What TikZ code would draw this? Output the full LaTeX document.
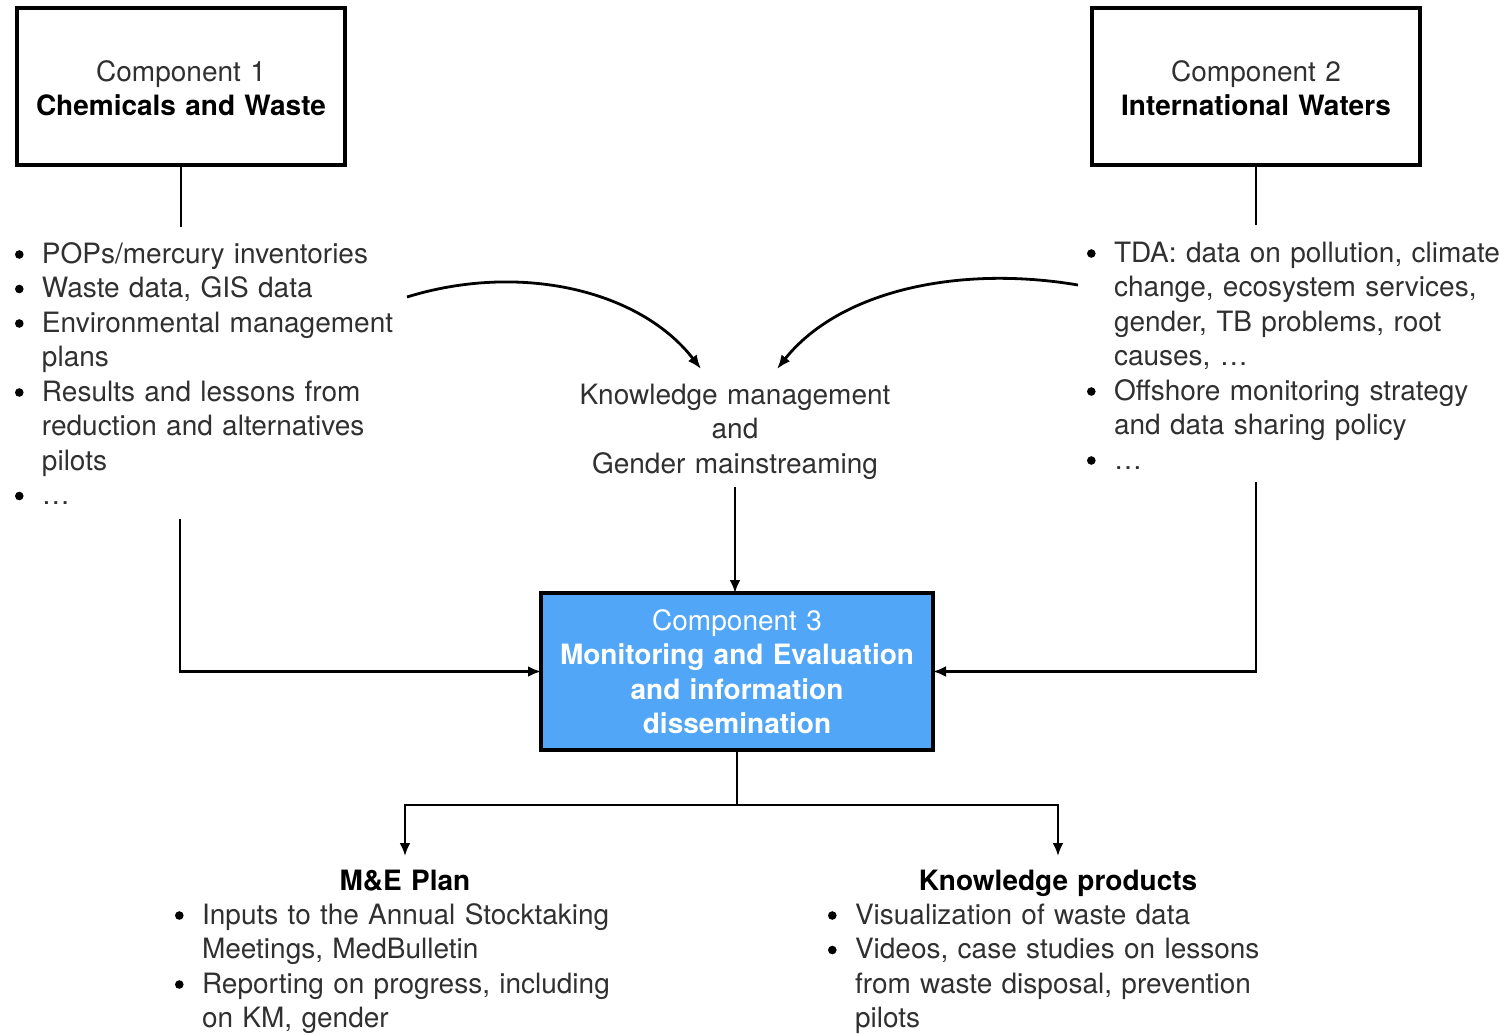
\documentclass[tikz,border=0pt]{standalone}
\usepackage{fontspec}
\setmainfont{TeX Gyre Heros}
\usetikzlibrary{arrows.meta}
\definecolor{txt}{RGB}{48,48,48}
\definecolor{blueC}{RGB}{82,166,247}
\newcommand\bul{\tikz[baseline=0pt]\fill[black] (4.5pt,8.5pt) circle[radius=4.3pt];}
\newcommand\bitem[1]{\hangindent=27pt\hangafter=1\noindent\makebox[27pt][l]{\bul}#1\par}
\newcommand\hb[1]{\textbf{\color{black}#1}}
\begin{document}
\begin{tikzpicture}[x=1pt,y=-1pt,
  every node/.style={inner sep=0pt, outer sep=0pt},
  txtbase/.style={font=\fontsize{28}{34.5}\selectfont, text=txt},
  listnode/.style={txtbase, anchor=base west, text width=600pt},
  titlenode/.style={txtbase, anchor=base, text width=420pt, align=center},
  compbox/.style={draw=black, line width=4pt},
  conn/.style={draw=black, line width=2.5pt},
  arr/.style={conn, -{Latex[length=13pt,width=11pt]}},
  curvearr/.style={draw=black, line width=2.8pt, -{Latex[length=14pt,width=11pt]}}
]
\useasboundingbox (0,0) rectangle (1504,1034);

% component boxes
\node[compbox, minimum width=328pt, minimum height=157pt] (c1) at (181,86.5) {};
\node[titlenode] (c1t) at (181,81) {Component 1\\\hb{Chemicals and Waste}};
\node[compbox, minimum width=328pt, minimum height=157pt] (c2) at (1256,86.5) {};
\node[titlenode] (c2t) at (1256,81) {Component 2\\\hb{International Waters}};
\node[compbox, fill=blueC, minimum width=392pt, minimum height=157pt] (c3) at (737,671.5) {};
\node[titlenode, text=white] (c3t) at (737,630) {Component 3\\\textbf{Monitoring and Evaluation}\\\textbf{and information}\\\textbf{dissemination}};

% lists
\node[listnode] (l1) at (15,263) {\bitem{POPs/mercury inventories}\bitem{Waste data, GIS data}\bitem{Environmental management\newline plans}\bitem{Results and lessons from\newline reduction and alternatives\newline pilots}\bitem{\dots}};
\node[listnode] (l2) at (1087,262) {\bitem{TDA: data on pollution, climate\newline change, ecosystem services,\newline gender, TB problems, root\newline causes, \dots}\bitem{Offshore monitoring strategy\newline and data sharing policy}\bitem{\dots}};
\node[titlenode] (km) at (735,404) {Knowledge management\\and\\Gender mainstreaming};

\node[titlenode] (mep) at (405,890) {\hb{M\&E Plan}};
\node[listnode] (mel) at (175,924) {\bitem{Inputs to the Annual Stocktaking\newline Meetings, MedBulletin}\bitem{Reporting on progress, including\newline on KM, gender}};
\node[titlenode] (kp) at (1058,890) {\hb{Knowledge products}};
\node[listnode] (kpl) at (828,924) {\bitem{Visualization of waste data}\bitem{Videos, case studies on lessons\newline from waste disposal, prevention\newline pilots}};

% coordinates
\coordinate (c1e) at (181,227);
\coordinate (c2e) at (1256,225);
\coordinate (lc) at (407,297);
\coordinate (kmL) at (701,369);
\coordinate (rc) at (1078,285);
\coordinate (kmR) at (777,369);
\coordinate (kmb) at (735,487);
\coordinate (ls) at (180,519);
\coordinate (rs) at (1256,482);
\coordinate (bj) at (737,805);
\coordinate (mepa) at (405,856);
\coordinate (kpa) at (1058,856);

% connectors
\draw[conn] (c1) -- (c1e);
\draw[conn] (c2) -- (c2e);
\draw[curvearr] (lc) .. controls (520,262) and (640,290) .. (kmL);
\draw[curvearr] (rc) .. controls (960,265) and (840,290) .. (kmR);
\draw[arr] (kmb) -- (kmb |- c3.north);
\draw[arr] (ls) |- (c3.west);
\draw[arr] (rs) |- (c3.east);
\draw[conn] (c3.south) -- (bj);
\draw[arr] (bj) -| (mepa);
\draw[arr] (bj) -| (kpa);
\end{tikzpicture}
\end{document}
